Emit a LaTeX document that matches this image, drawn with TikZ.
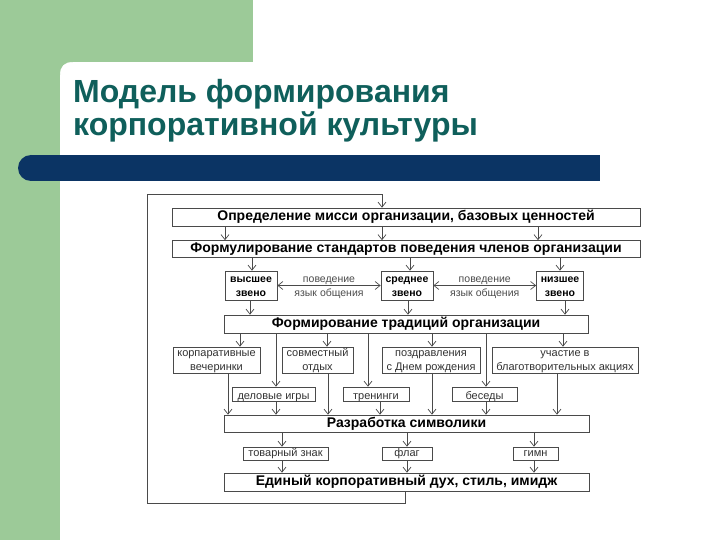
\documentclass[tikz,border=0pt]{standalone}
\usepackage{fontspec}
\setmainfont{Liberation Sans}
\usetikzlibrary{arrows.meta}
\definecolor{bggreen}{HTML}{9CCA98}
\definecolor{barblue}{HTML}{0B3464}
\definecolor{titleteal}{HTML}{0F5F5B}
\definecolor{linegray}{HTML}{4A4A4A}
\tikzstyle{mainbox} = [rectangle, 
draw=linegray, 
line width=0.7pt, 
fill=white, 
inner sep=0pt, 
minimum height=18pt, 
text centered, 
font=\bfseries\fontsize{14}{14}\selectfont]
\tikzstyle{levelbox} = [rectangle, 
draw=linegray, 
line width=0.7pt, 
fill=white, 
inner sep=0pt, 
minimum width=52pt, 
minimum height=29pt, 
text height=23pt, 
text depth=1pt, 
align=center, 
font=\bfseries\fontsize{10.5}{14}\selectfont]
\tikzstyle{smallbox} = [rectangle, 
draw=linegray, 
line width=0.7pt, 
fill=white, 
inner sep=0pt, 
align=center, 
text=black!80, 
font=\fontsize{11}{14}\selectfont]
\tikzstyle{formbox} = [smallbox, minimum height=26pt, text height=22pt, text depth=2pt]
\tikzstyle{sidebox} = [smallbox, minimum height=14pt, text height=10pt, text depth=0pt]
\tikzstyle{signbox} = [smallbox, minimum height=13pt, text height=6pt, text depth=1pt]
\tikzstyle{linklabel} = [inner sep=1pt, text=black!70, font=\fontsize{10.5}{10.5}\selectfont]
\tikzstyle{arrow} = [draw=linegray, line width=0.7pt, -{Straight Barb[length=5pt,width=8pt]}]
\tikzstyle{link} = [draw=linegray, line width=0.7pt, {Straight Barb[length=5pt,width=8pt]}-{Straight Barb[length=5pt,width=8pt]}]

\begin{document}
\begin{tikzpicture}[x=1pt, y=-1pt]
\useasboundingbox (0,0) rectangle (720,540);

% background
\fill[white] (0,0) rectangle (720,540);
\fill[bggreen] (0,0) rectangle (253,62);
\fill[bggreen] (0,0) rectangle (60,540);
\fill[bggreen] (60,62) -- (73,62) .. controls (64,62) and (60,66) .. (60,75) -- cycle;
\fill[barblue] (31,155) rectangle (600,181);
\fill[barblue] (31,168) circle[radius=13pt];

\node (title) [anchor=north west, inner sep=0pt, align=left, text=titleteal, 
font=\bfseries\fontsize{32}{33}\selectfont] at (73,79) {Модель формирования\\корпоративной культуры};

% boxes
\node (mission) [mainbox, minimum width=468pt] at (406,217) {Определение мисси организации, базовых ценностей};
\node (standards) [mainbox, minimum width=468pt, minimum height=17pt] at (406,249) {Формулирование стандартов поведения членов организации};
\node (upper) [levelbox] at (251,285.5) {высшее\\звено};
\node (mid) [levelbox] at (407,285.5) {среднее\\звено};
\node (lower) [levelbox, minimum width=47pt] at (560,285.5) {низшее\\звено};
\node (traditions) [mainbox, minimum width=364pt] at (406,324) {Формирование традиций организации};
\node (parties) [formbox, minimum width=87pt] at (216.5,360) {корпаративные\\вечеринки};
\node (leisure) [formbox, minimum width=71pt] at (317.5,360) {совместный\\отдых};
\node (birthday) [formbox, minimum width=98pt] at (431,360) {поздравления\\с Днем рождения};
\node (charity) [formbox, minimum width=146pt] at (565,360) {участие в\\благотворительных акциях};
\node (games) [sidebox, minimum width=83pt] at (273.5,394) {деловые игры};
\node (trainings) [sidebox, minimum width=66pt] at (376,394) {тренинги};
\node (talks) [sidebox, minimum width=65pt] at (484.5,394) {беседы};
\node (symbols) [mainbox, minimum width=365pt, minimum height=17pt] at (406.5,423.5) {Разработка символики};
\node (trademark) [signbox, minimum width=85pt] at (285.5,453.5) {товарный знак};
\node (flag) [signbox, minimum width=50pt] at (407,453.5) {флаг};
\node (anthem) [signbox, minimum width=45pt] at (535.5,453.5) {гимн};
\node (spirit) [mainbox, minimum width=365pt] at (406.5,482) {Единый корпоративный дух, стиль, имидж};

% feedback loop
\coordinate (loopSW) at (147,503);
\coordinate (loopNW) at (147,194);
\draw [arrow] (405,0 |- spirit.south) |- (loopSW) -- (loopNW) -| (382,0 |- mission.north);

% arrows
\foreach \x in {225,382,538}
  \draw [arrow] (\x,0 |- mission.south) -- (\x,0 |- standards.north);
\foreach \x in {252,410,560}
  \draw [arrow] (\x,0 |- standards.south) -- (\x,0 |- upper.north);
\draw [link] (upper) -- node[above, linklabel] {поведение} node[below=2pt, linklabel] {язык общения} (mid);
\draw [link] (mid) -- node[above, linklabel] {поведение} node[below=2pt, linklabel] {язык общения} (lower);
\foreach \x in {250,408,565}
  \draw [arrow] (\x,0 |- upper.south) -- (\x,0 |- traditions.north);
\foreach \x in {240,327,432,563}
  \draw [arrow] (\x,0 |- traditions.south) -- (\x,0 |- parties.north);
\foreach \x in {276,368,486}
  \draw [arrow] (\x,0 |- traditions.south) -- (\x,0 |- games.north);
\foreach \x in {228,328,432,557}
  \draw [arrow] (\x,0 |- parties.south) -- (\x,0 |- symbols.north);
\foreach \x in {276,380,486}
  \draw [arrow] (\x,0 |- games.south) -- (\x,0 |- symbols.north);
\foreach \x in {282,407,534}
  \draw [arrow] (\x,0 |- symbols.south) -- (\x,0 |- trademark.north);
\foreach \x in {282,407,534}
  \draw [arrow] (\x,0 |- trademark.south) -- (\x,0 |- spirit.north);

\end{tikzpicture}
\end{document}
